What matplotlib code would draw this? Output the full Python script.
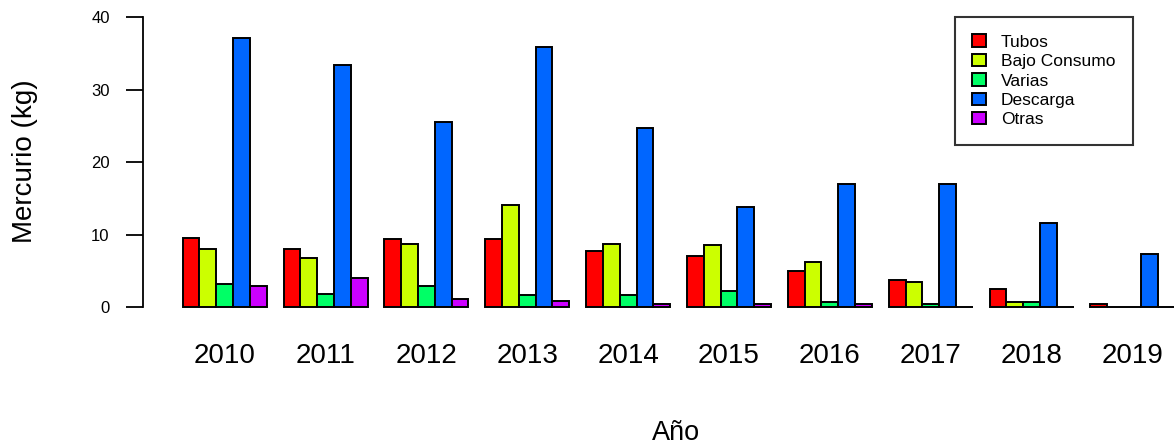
import numpy as np
import matplotlib.pyplot as plt

plt.rcParams['font.family'] = ['Liberation Sans', 'DejaVu Sans']

years = ["2010", "2011", "2012", "2013", "2014", "2015", "2016", "2017", "2018", "2019"]
series_names = ["Tubos", "Bajo Consumo", "Varias", "Descarga", "Otras"]
colors = ["#FF0000", "#CCFF00", "#00FF66", "#0066FF", "#CC00FF"]

tubos = [9.5, 8.1, 9.4, 9.4, 7.8, 7.1, 5.0, 3.8, 2.5, 0.45]
bajo_consumo = [8.1, 6.8, 8.8, 14.1, 8.8, 8.6, 6.3, 3.5, 0.7, 0.1]
varias = [3.2, 1.9, 3.0, 1.7, 1.7, 2.2, 0.7, 0.45, 0.7, 0.1]
descarga = [37.2, 33.4, 25.5, 35.9, 24.8, 13.9, 17.0, 17.0, 11.6, 7.3]
otras = [3.0, 4.0, 1.2, 0.95, 0.45, 0.45, 0.45, 0.1, 0.1, 0.1]

data = [tubos, bajo_consumo, varias, descarga, otras]

W, H = 1176, 446
fig = plt.figure(figsize=(W / 100, H / 100), dpi=100)
# plot region in pixels (R style barplot, right side cut by the image edge)
left, right, top, bottom = 143, 1176, 5.7, 319
ax = fig.add_axes([left / W, 1 - bottom / H, (right - left) / W, (bottom - top) / H])

n_groups = len(years)
n_series = len(data)
group_w = n_series + 1
for j, (vals, col, name) in enumerate(zip(data, colors, series_names)):
    x = np.arange(n_groups) * group_w + 1 + j
    ax.bar(x, vals, width=1, align='edge', color=col, edgecolor='black',
           linewidth=1.4, label=name)

ax.set_xlim(-1.36, -1.36 + (right - left) / 16.81)
ax.set_ylim(-1.6, 41.6)

centers = np.arange(n_groups) * group_w + 1 + n_series / 2
ax.set_xticks(centers)
ax.set_xticklabels(years, fontsize=20)
ax.tick_params(axis='x', length=0, pad=17)

ax.set_yticks([0, 10, 20, 30, 40])
ax.tick_params(axis='y', length=12, width=1.3, labelsize=12, pad=12)

for s in ['top', 'right', 'bottom']:
    ax.spines[s].set_visible(False)
ax.spines['left'].set_bounds(0, 40)
ax.spines['left'].set_linewidth(1.3)

fig.text(25 / W, 1 - 161 / H, "Mercurio (kg)", rotation=90, fontsize=20,
         ha='center', va='center')
fig.text(676 / W, 1 - 433 / H, "Año", fontsize=19.5, ha='center', va='center')

leg = ax.legend(loc='upper left', bbox_to_anchor=(955 / W, 1 - 17 / H),
                bbox_transform=fig.transFigure, fontsize=12.5, frameon=True,
                fancybox=False, edgecolor='black', borderpad=1.0,
                handlelength=0.8, handleheight=0.7, handletextpad=0.85,
                labelspacing=0.25, borderaxespad=0)
leg.get_frame().set_linewidth(1.5)

fig.savefig("out.png", dpi=100)
